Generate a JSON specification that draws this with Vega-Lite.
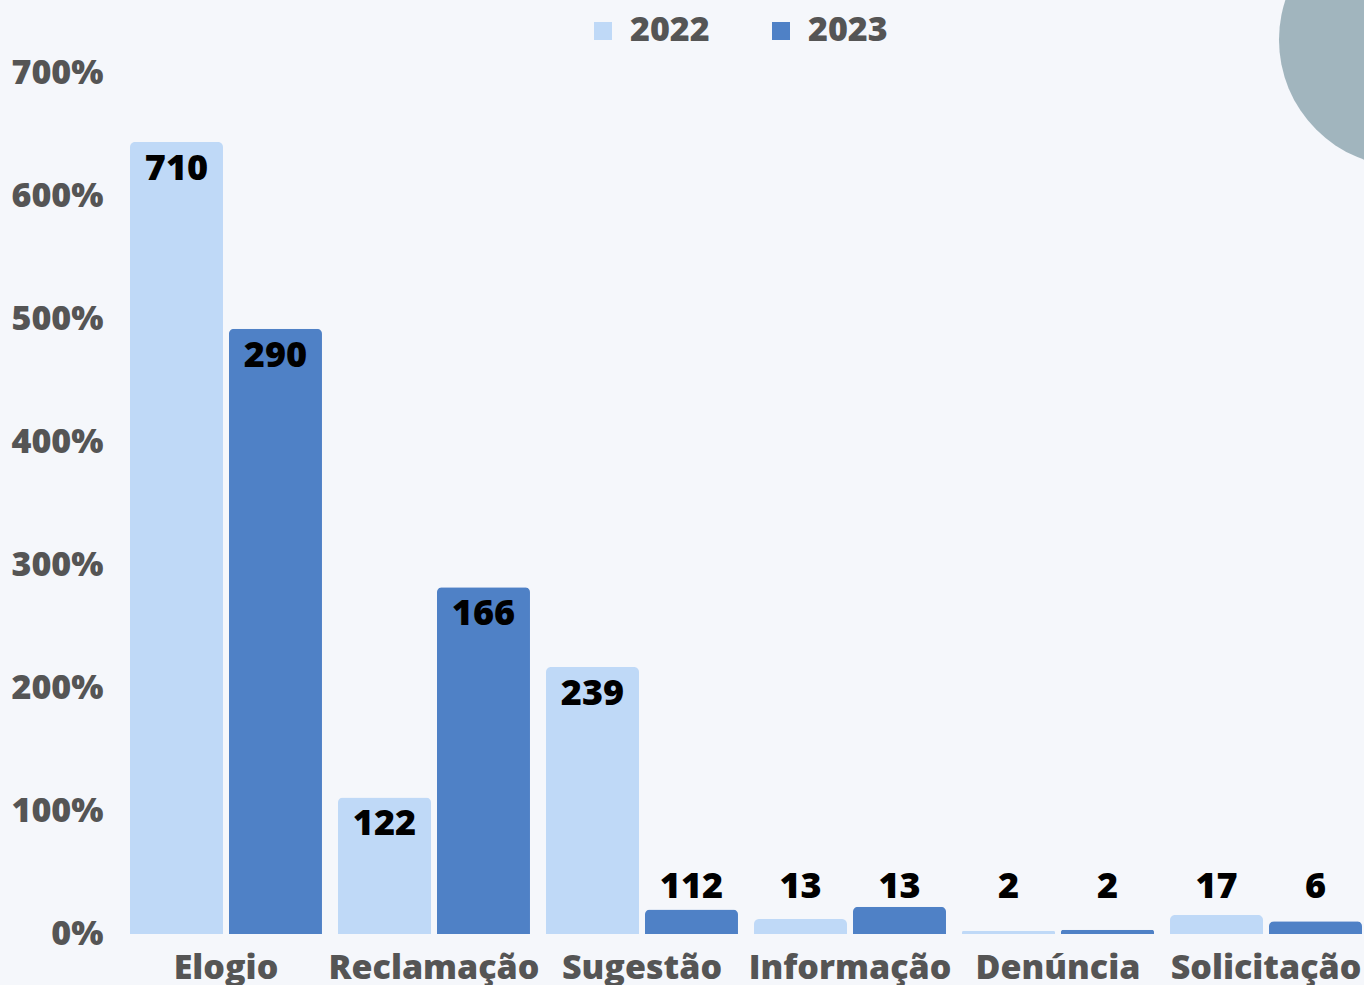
{
  "$schema": "https://vega.github.io/schema/vega-lite/v6.json",
  "autosize": {"type": "none"},
  "padding": {"left": 130, "top": 73, "right": 2, "bottom": 51},
  "width": 1232,
  "height": 861,
  "background": "#f5f7fb",
  "config": {
    "view": {"stroke": null},
    "font": "Open Sans"
  },
  "data": {
    "values": [
      {"categoria": "Elogio", "ano": "2022", "pct": 644, "total": 710},
      {"categoria": "Elogio", "ano": "2023", "pct": 492, "total": 290},
      {"categoria": "Reclamação", "ano": "2022", "pct": 111, "total": 122},
      {"categoria": "Reclamação", "ano": "2023", "pct": 282, "total": 166},
      {"categoria": "Sugestão", "ano": "2022", "pct": 217, "total": 239},
      {"categoria": "Sugestão", "ano": "2023", "pct": 20, "total": 112},
      {"categoria": "Informação", "ano": "2022", "pct": 12.2, "total": 13},
      {"categoria": "Informação", "ano": "2023", "pct": 22.2, "total": 13},
      {"categoria": "Denúncia", "ano": "2022", "pct": 2.7, "total": 2},
      {"categoria": "Denúncia", "ano": "2023", "pct": 3.5, "total": 2},
      {"categoria": "Solicitação", "ano": "2022", "pct": 15.4, "total": 17},
      {"categoria": "Solicitação", "ano": "2023", "pct": 10.3, "total": 6}
    ]
  },
  "layer": [
    {
      "data": {"values": [{"deco": "circulo"}]},
      "mark": {"type": "point", "filled": true, "shape": "circle", "size": 64516, "color": "#a1b5be", "opacity": 1, "strokeWidth": 0},
      "encoding": {
        "x": {"datum": 1.0357, "type": "quantitative", "scale": {"domain": [0, 1]}, "axis": null},
        "y": {"datum": 727, "type": "quantitative"}
      }
    },
    {
      "encoding": {
        "x": {
          "field": "categoria",
          "type": "nominal",
          "sort": null,
          "scale": {"paddingInner": 0.077, "paddingOuter": 0},
          "axis": {
            "title": null,
            "labelAngle": 0,
            "ticks": false,
            "domain": false,
            "labelFont": "Open Sans",
            "labelFontSize": 34,
            "labelFontWeight": 800,
            "labelColor": "#555555",
            "labelPadding": 17,
            "labelBaseline": "top",
            "labelLimit": 400
          }
        },
        "xOffset": {
          "field": "ano",
          "type": "nominal",
          "scale": {"paddingInner": 0.0606, "paddingOuter": 0}
        },
        "y": {
          "field": "pct",
          "type": "quantitative",
          "scale": {"domain": [0, 700], "nice": false},
          "axis": {
            "title": null,
            "values": [0, 100, 200, 300, 400, 500, 600, 700],
            "labelExpr": "datum.value + '%'",
            "grid": false,
            "ticks": false,
            "domain": false,
            "labelFont": "Open Sans",
            "labelFontSize": 34,
            "labelFontWeight": 800,
            "labelColor": "#555555",
            "labelPadding": 27,
            "labelBaseline": "middle"
          }
        }
      },
      "layer": [
        {
          "mark": {"type": "bar", "cornerRadiusTopLeft": 5, "cornerRadiusTopRight": 5},
          "encoding": {
            "color": {
              "field": "ano",
              "type": "nominal",
              "scale": {"domain": ["2022", "2023"], "range": ["#bfd9f7", "#4f81c6"]},
              "legend": {
                "title": null,
                "orient": "none",
                "legendX": 456,
                "legendY": -59,
                "direction": "horizontal",
                "symbolType": "square",
                "symbolSize": 324,
                "symbolStrokeWidth": 0,
                "labelFont": "Open Sans",
                "labelFontSize": 34,
                "labelFontWeight": 800,
                "labelColor": "#555555",
                "labelOffset": 10,
                "columnPadding": 54
              }
            }
          }
        },
        {
          "transform": [{"filter": "datum.pct >= 50"}],
          "mark": {"type": "text", "baseline": "middle", "align": "center", "dy": 27, "fontSize": 36, "fontWeight": 800, "font": "Open Sans", "color": "#000000"},
          "encoding": {
            "text": {"field": "total", "type": "quantitative"}
          }
        },
        {
          "transform": [{"filter": "datum.pct < 50"}],
          "mark": {"type": "text", "baseline": "middle", "align": "center", "dy": -47, "fontSize": 36, "fontWeight": 800, "font": "Open Sans", "color": "#000000"},
          "encoding": {
            "y": {"datum": 0, "type": "quantitative"},
            "text": {"field": "total", "type": "quantitative"}
          }
        }
      ]
    }
  ],
  "resolve": {"scale": {"x": "independent"}, "axis": {"x": "independent"}}
}
